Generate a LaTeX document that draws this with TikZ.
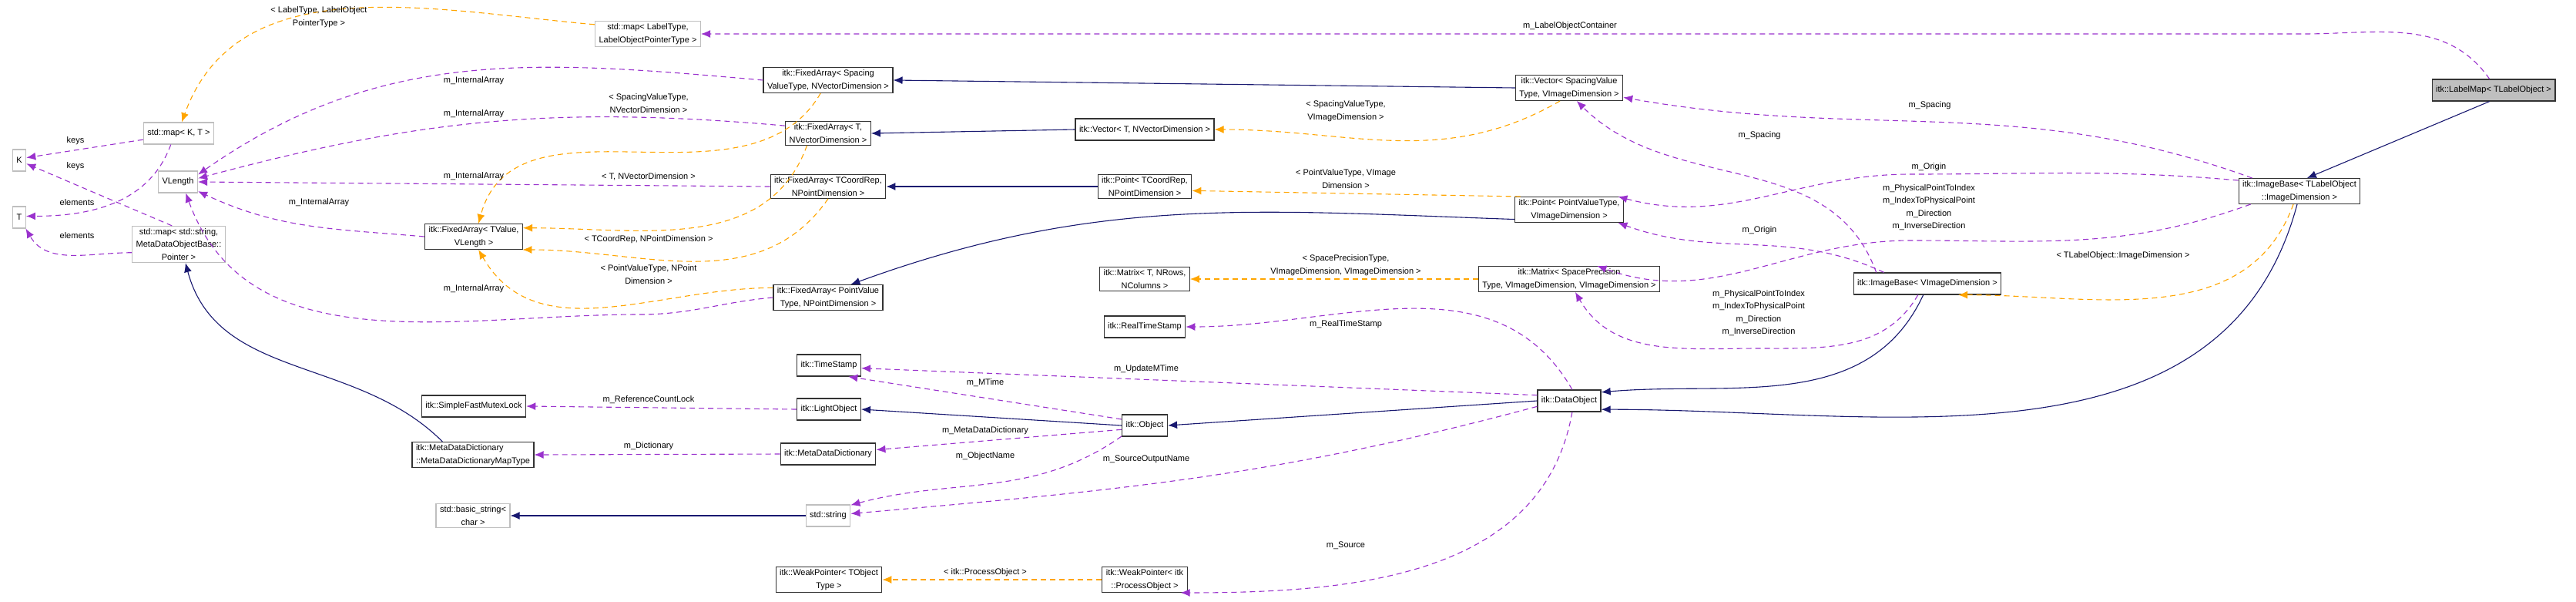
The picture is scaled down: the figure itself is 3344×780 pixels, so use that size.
\documentclass[tikz,border=0pt]{standalone}
\usepackage{fontspec}
\setmainfont{Liberation Sans}
\usetikzlibrary{arrows.meta,positioning}

\definecolor{edgepurple}{HTML}{9A32CD}
\definecolor{edgeorange}{HTML}{FFA500}
\definecolor{edgenavy}{HTML}{191970}

\tikzset{
  cls/.style={draw=black!80, line width=1.2pt, fill=white, align=center,
    inner xsep=5pt, inner ysep=3pt, minimum height=28pt, font=\fontsize{11}{16.5}\selectfont},
  ext/.style={cls, draw=black!25},
  here/.style={cls, fill=black!25},
  elabel/.style={align=center, inner sep=1pt, font=\fontsize{11}{16.5}\selectfont},
  use/.style={draw=edgepurple, dashed, dash pattern=on 7pt off 5pt, line width=1.1pt,
    -{Latex[length=12pt,width=10pt]}},
  tmpl/.style={use, draw=edgeorange},
  inh/.style={draw=edgenavy, line width=1.1pt, -{Latex[length=12pt,width=10pt]}},
}

\begin{document}
\begin{tikzpicture}[x=1pt, y=-1pt]
    \useasboundingbox (0,0) rectangle (3344,780);

    % Classes
    \node[here] (lmap) at (3237,117) {itk::LabelMap< TLabelObject >};
    \node[cls] (ibtl) at (2985,248) {itk::ImageBase< TLabelObject\\::ImageDimension >};
    \node[cls] (ibv) at (2502,368) {itk::ImageBase< VImageDimension >};
    \node[cls] (dobj) at (2037,520) {itk::DataObject};
    \node[cls] (vsp) at (2037,114) {itk::Vector< SpacingValue\\Type, VImageDimension >};
    \node[cls] (ppv) at (2037,272) {itk::Point< PointValueType,\\VImageDimension >};
    \node[cls] (msp) at (2037,362) {itk::Matrix< SpacePrecision\\Type, VImageDimension, VImageDimension >};
    \node[cls] (vtn) at (1486,168) {itk::Vector< T, NVectorDimension >};
    \node[cls] (ptc) at (1486,242) {itk::Point< TCoordRep,\\NPointDimension >};
    \node[cls] (mtn) at (1486,362) {itk::Matrix< T, NRows,\\NColumns >};
    \node[cls] (rts) at (1486,424) {itk::RealTimeStamp};
    \node[cls] (obj) at (1486,552) {itk::Object};
    \node[cls] (wpo) at (1486,752) {itk::WeakPointer< itk\\::ProcessObject >};
    \node[cls] (fasp) at (1075,104) {itk::FixedArray< Spacing\\ValueType, NVectorDimension >};
    \node[cls] (fatn) at (1075,173) {itk::FixedArray< T,\\NVectorDimension >};
    \node[cls] (fatc) at (1075,242) {itk::FixedArray< TCoordRep,\\NPointDimension >};
    \node[cls] (fapv) at (1075,386) {itk::FixedArray< PointValue\\Type, NPointDimension >};
    \node[cls] (ts) at (1076,474) {itk::TimeStamp};
    \node[cls] (lobj) at (1076,531) {itk::LightObject};
    \node[cls] (mdd) at (1075,589) {itk::MetaDataDictionary};
    \node[ext] (str) at (1075,669) {std::string};
    \node[cls] (wpt) at (1076,752) {itk::WeakPointer< TObject\\Type >};
    \node[cls] (fatv) at (615,307) {itk::FixedArray< TValue,\\VLength >};
    \node[cls] (mutex) at (615,527) {itk::SimpleFastMutexLock};
    \node[cls, align=left] (mapt) at (614,590) {itk::MetaDataDictionary\\::MetaDataDictionaryMapType};
    \node[ext] (bstr) at (614,669) {std::basic\_string<\\char >};
    \node[ext] (maplt) at (841,44) {std::map< LabelType,\\LabelObjectPointerType >};
    \node[ext] (mapkt) at (232,173) {std::map< K, T >};
    \node[ext] (vlen) at (231,236) {VLength};
    \node[ext] (mapstr) at (232,317) {std::map< std::string,\\MetaDataObjectBase::\\Pointer >};
    \node[ext] (k) at (25,208) {K};
    \node[ext] (t) at (25,282) {T};

    % Inheritance
    \draw[inh] (lmap.-110) -- (ibtl.60);
    \draw[inh] (ibtl.-100) to[out=-105, in=0] (dobj.-15);
    \draw[inh] (ibv.-110) to[out=-115, in=5] (dobj.15);
    \draw[inh] (dobj.west) -- (obj.east);
    \draw[inh] (obj.west) -- (lobj.east);
    \draw[inh] (vsp.west) -- (fasp.east);
    \draw[inh] (vtn.west) -- (fatn.east);
    \draw[inh] (ptc.west) -- (fatc.east);
    \draw[inh] (ppv.190) to[out=178, in=20] (fapv.30);
    \draw[inh] (mapt.north west) ++(40,0) to[out=135, in=-75] (mapstr.-70);
    \draw[inh] (str.west) -- (bstr.east);

    % Template instantiation
    \draw[tmpl] (maplt.170) to[out=175, in=70] (mapkt.75);
    \draw[tmpl] (vsp.-125) to[out=-150, in=0] (vtn.east);
    \draw[tmpl] (ppv.165) -- (ptc.-5);
    \draw[tmpl] (msp.west) -- (mtn.east);
    \draw[tmpl] (ibtl.-115) to[out=-110, in=0] (ibv.-20);
    \draw[tmpl] (wpo.west) -- (wpt.east);
    \draw[tmpl] (fasp.-120) to[out=-120, in=75] (fatv.70);
    \draw[tmpl] (fatn.-150) to[out=-110, in=0] (fatv.10);
    \draw[tmpl] (fatc.-90) to[out=-125, in=0] (fatv.-15);
    \draw[tmpl] (fapv.170) to[out=180, in=-60] (fatv.-70);

    % Members
    \draw[use] (lmap.110) to[out=125, in=0] (2990,44) -- (maplt.east);
    \draw[use] (ibtl.north west) ++(18,0) to[out=160, in=-10] (vsp.-10);
    \draw[use] (ibv.north west) ++(30,0) to[out=110, in=-45] (vsp.-60);
    \draw[use] (ibtl.170) to[out=175, in=0] (2480,226) to[out=180, in=-15] (ppv.15);
    \draw[use] (ibv.north west) ++(40,0) to[out=155, in=-20] (ppv.-15);
    \draw[use] (ibtl.-165) to[out=-160, in=0] (2480,312) to[out=180, in=-20] (msp.25);
    \draw[use] (ibv.-130) to[out=-120, in=0] (2283,452) to[out=180, in=-60] (msp.-65);
    \draw[use] (dobj.75) to[out=120, in=0] (rts.east);
    \draw[use] (dobj.170) -- (ts.-5);
    \draw[use] (dobj.-170) to[out=-165, in=5] (str.5);
    \draw[use] (dobj.-75) to[out=-100, in=0] (wpo.-20);
    \draw[use] (obj.165) -- (ts.-30);
    \draw[use] (obj.-170) -- (mdd.5);
    \draw[use] (obj.-155) to[out=-145, in=15] (str.25);
    \draw[use] (lobj.west) -- (mutex.east);
    \draw[use] (mdd.west) -- (mapt.east);
    \draw[use] (fasp.west) to[out=175, in=35] (vlen.20);
    \draw[use] (fatn.170) to[out=175, in=15] (vlen.10);
    \draw[use] (fatc.west) -- (vlen.east);
    \draw[use] (fatv.west) to[out=175, in=-25] (vlen.-25);
    \draw[use] (fapv.west) to[out=-175, in=0] (830,408) to[out=180, in=-70] (vlen.-55);
    \draw[use] (mapkt.-170) -- (k.20);
    \draw[use] (mapkt.-125) to[out=-110, in=0] (t.10);
    \draw[use] (mapstr.110) -- (k.-25);
    \draw[use] (mapstr.-170) to[out=180, in=-60] (t.-60);

    % Labels
    \node[elabel] (lcont) at (2038,34) {m\_LabelObjectContainer};
    \node[elabel] (llt) at (414,22) {< LabelType, LabelObject\\PointerType >};
    \node[elabel] (lsp1) at (2505,137) {m\_Spacing};
    \node[elabel] (lsp2) at (2284,176) {m\_Spacing};
    \node[elabel] (lor1) at (2504,217) {m\_Origin};
    \node[elabel] (lor2) at (2284,299) {m\_Origin};
    \node[elabel] (lmat1) at (2504,269) {m\_PhysicalPointToIndex\\m\_IndexToPhysicalPoint\\m\_Direction\\m\_InverseDirection};
    \node[elabel] (lmat2) at (2283,406) {m\_PhysicalPointToIndex\\m\_IndexToPhysicalPoint\\m\_Direction\\m\_InverseDirection};
    \node[elabel] (lib) at (2756,332) {< TLabelObject::ImageDimension >};
    \node[elabel] (lvs) at (1747,144) {< SpacingValueType,\\VImageDimension >};
    \node[elabel] (lpv) at (1747,232) {< PointValueType, VImage\\Dimension >};
    \node[elabel] (lms) at (1747,344) {< SpacePrecisionType,\\VImageDimension, VImageDimension >};
    \node[elabel] (lrts) at (1747,421) {m\_RealTimeStamp};
    \node[elabel] (lumt) at (1488,479) {m\_UpdateMTime};
    \node[elabel] (lmt) at (1279,497) {m\_MTime};
    \node[elabel] (lmdd) at (1279,559) {m\_MetaDataDictionary};
    \node[elabel] (lon) at (1279,592) {m\_ObjectName};
    \node[elabel] (lson) at (1488,596) {m\_SourceOutputName};
    \node[elabel] (lsrc) at (1747,708) {m\_Source};
    \node[elabel] (lpo) at (1279,743) {< itk::ProcessObject >};
    \node[elabel] (lrcl) at (842,519) {m\_ReferenceCountLock};
    \node[elabel] (ldict) at (842,579) {m\_Dictionary};
    \node[elabel] (lia1) at (615,105) {m\_InternalArray};
    \node[elabel] (lia2) at (615,148) {m\_InternalArray};
    \node[elabel] (lia3) at (615,229) {m\_InternalArray};
    \node[elabel] (lia4) at (414,263) {m\_InternalArray};
    \node[elabel] (lia5) at (615,375) {m\_InternalArray};
    \node[elabel] (lfsp) at (842,134) {< SpacingValueType,\\NVectorDimension >};
    \node[elabel] (lftn) at (842,229) {< T, NVectorDimension >};
    \node[elabel] (lftc) at (842,311) {< TCoordRep, NPointDimension >};
    \node[elabel] (lfpv) at (842,356) {< PointValueType, NPoint\\Dimension >};
    \node[elabel] (lk1) at (98,183) {keys};
    \node[elabel] (lk2) at (98,216) {keys};
    \node[elabel] (le1) at (100,263) {elements};
    \node[elabel] (le2) at (100,306) {elements};
\end{tikzpicture}
\end{document}
